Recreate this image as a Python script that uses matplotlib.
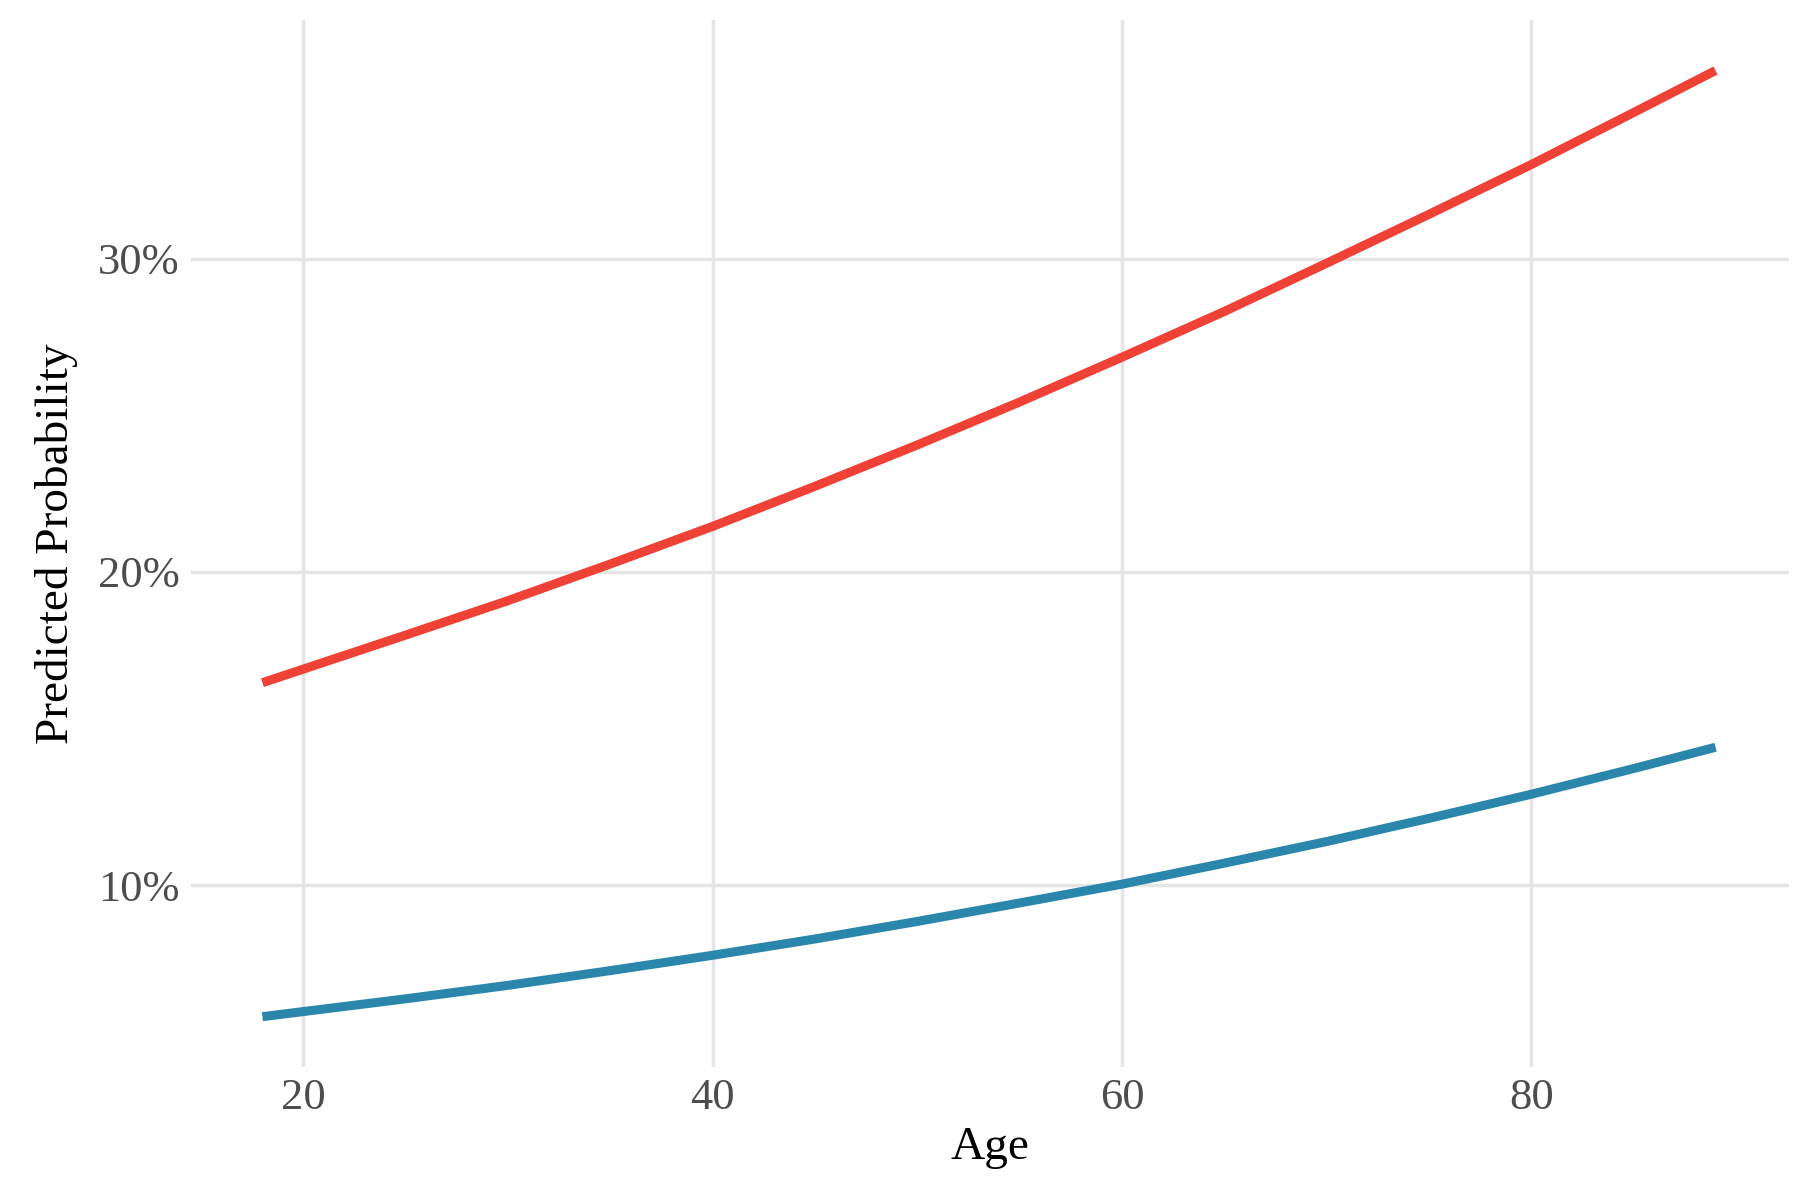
import matplotlib
matplotlib.use("Agg")
import matplotlib.pyplot as plt
from matplotlib.ticker import FuncFormatter

ages = [18, 25, 30, 35, 40, 45, 50, 55, 60, 65, 70, 75, 80, 85, 89]
red = [16.46, 17.98, 19.08, 20.25, 21.45, 22.73, 24.05, 25.42, 26.85, 28.31, 29.85, 31.41, 33.0, 34.66, 36.0]
blue = [5.8, 6.37, 6.80, 7.27, 7.76, 8.28, 8.84, 9.43, 10.03, 10.70, 11.39, 12.13, 12.90, 13.72, 14.4]

plt.rcParams['font.family'] = ['Liberation Serif', 'DejaVu Serif']
fig = plt.figure(figsize=(18, 12), dpi=100)
ax = fig.add_axes([0.106, 0.111, 0.888, 0.872])
ax.plot(ages, red, color='#EF4136', lw=6.5, solid_capstyle='butt')
ax.plot(ages, blue, color='#2B86AC', lw=6.5, solid_capstyle='butt')
ax.set_xlim(14.5, 92.6)
ax.set_ylim(4.2, 37.6)
ax.set_xticks([20, 40, 60, 80])
ax.set_yticks([10, 20, 30])
ax.yaxis.set_major_formatter(FuncFormatter(lambda v, p: f"{v:.0f}%"))
ax.grid(True, color='#E5E5E5', lw=2.5)
ax.set_axisbelow(True)
for s in ax.spines.values():
    s.set_visible(False)
ax.tick_params(length=0, labelsize=32, labelcolor='#4D4D4D', pad=8)
ax.set_xlabel('Age', fontsize=34, labelpad=6)
ax.set_ylabel('Predicted Probability', fontsize=34, labelpad=14)
fig.savefig('out.png')
